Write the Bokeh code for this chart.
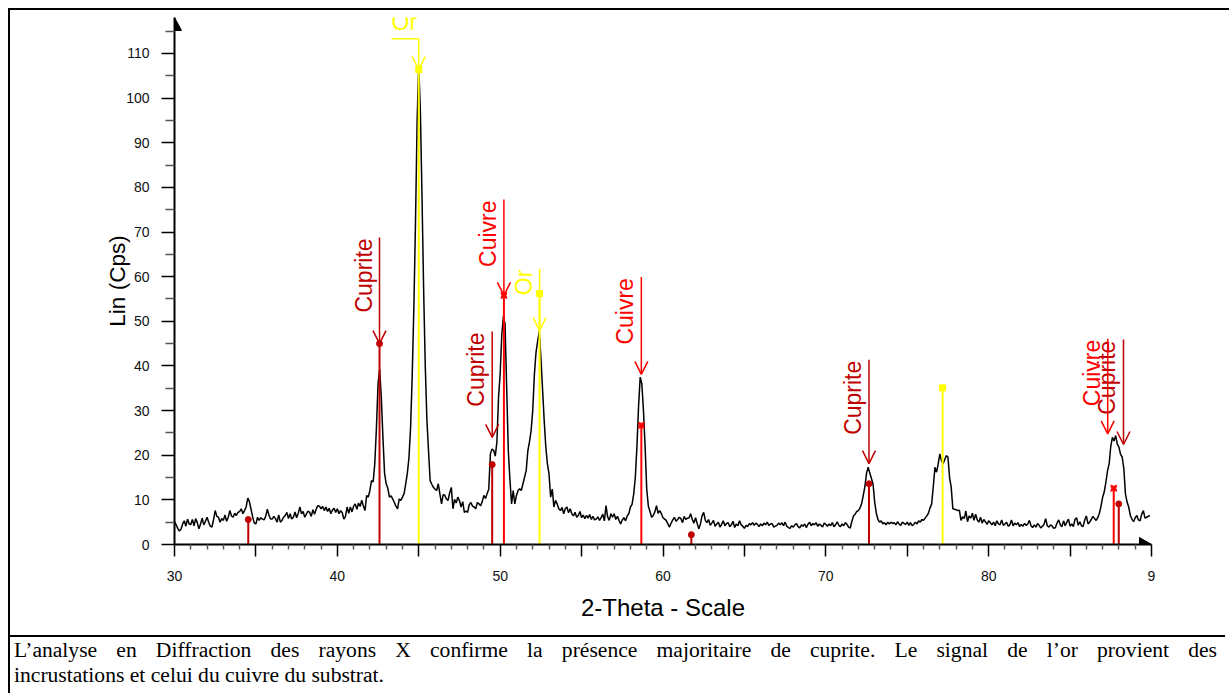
from math import pi
from bokeh.plotting import figure
from bokeh.models import Range1d, LinearAxis, FixedTicker, Arrow, OpenHead, Div
from bokeh.layouts import column
from bokeh.core.properties import value
from bokeh.embed import file_html
from bokeh.resources import INLINE

# ---------------- data ----------------
scan_start = 30.0
scan_step = 0.1
counts = [
    5.2, 4.4, 3.6, 3.0, 3.4, 4.6, 5.3, 4.1, 5.7, 4.6,        # 30
    4.5, 5.6, 4.2, 5.8, 4.9, 3.5, 4.6, 5.9, 4.4, 5.2,        # 31
    6.1, 5.0, 4.1, 3.9, 5.6, 7.6, 6.3, 6.1, 5.0, 5.8,        # 32
    5.4, 6.6, 5.2, 6.1, 7.6, 6.4, 6.1, 7.0, 6.5, 7.2,        # 33
    7.4, 8.0, 6.9, 7.6, 8.4, 10.4, 9.6, 7.9, 6.2, 4.8,       # 34
    4.6, 6.1, 5.4, 6.0, 5.7, 5.5, 6.3, 7.9, 6.6, 5.7,        # 35
    5.7, 6.3, 5.8, 5.0, 6.6, 5.0, 5.4, 6.1, 6.5, 7.2,        # 36
    5.8, 6.9, 5.7, 6.1, 7.3, 6.0, 7.0, 8.4, 6.9, 7.4,        # 37
    6.1, 6.8, 7.5, 7.2, 6.3, 7.8, 6.8, 7.9, 8.7, 8.6,        # 38
    8.0, 8.5, 7.6, 8.4, 7.4, 8.1, 6.9, 7.7, 8.1, 7.2,        # 39
    8.0, 6.9, 7.6, 7.1, 5.7, 6.3, 8.4, 7.0, 8.4, 7.3,        # 40
    8.6, 9.1, 7.9, 9.3, 8.5, 9.9, 8.6, 7.6, 11.0, 10.6,      # 41
    12.1, 14.3, 14.0, 18.1, 26.0, 36.0, 39.3, 33.0, 24.0, 16.0,   # 42
    13.6, 12.6, 10.6, 10.9, 10.2, 9.4, 8.6, 8.0, 10.2, 9.9,  # 43
    10.6, 11.4, 13.6, 16.0, 19.5, 26.3, 38.0, 53.2, 72.0, 95.0,   # 44
    107.3, 97.0, 78.0, 57.0, 40.0, 28.0, 21.0, 14.3, 13.5, 12.8,  # 45
    12.4, 12.1, 13.6, 11.3, 9.1, 11.2, 11.0, 10.2, 9.9, 11.6,     # 46
    12.8, 8.0, 10.1, 9.3, 10.6, 9.8, 8.4, 9.6, 7.2, 7.5,     # 47
    7.2, 8.9, 9.4, 8.6, 8.4, 8.0, 9.4, 9.1, 8.7, 9.6,        # 48
    11.0, 10.3, 11.4, 12.4, 20.3, 21.4, 21.1, 19.8, 23.0, 33.0,   # 49
    38.2, 47.0, 51.1, 49.4, 35.0, 21.0, 14.5, 9.1, 12.1, 9.1,     # 50
    11.0, 12.1, 12.5, 12.1, 13.6, 15.1, 16.6, 21.0, 23.0, 25.5,   # 51
    30.0, 38.0, 43.0, 45.5, 47.7, 42.0, 35.0, 28.0, 22.0, 18.1,   # 52
    15.8, 10.6, 12.4, 8.4, 9.9, 9.1, 8.0, 7.6, 8.3, 6.9,     # 53
    8.0, 8.4, 7.1, 8.0, 6.9, 6.4, 7.2, 6.1, 6.5, 7.4,        # 54
    6.0, 6.6, 5.8, 6.5, 5.9, 6.7, 5.6, 6.3, 5.5, 5.7,        # 55
    6.2, 5.4, 6.0, 6.8, 5.3, 8.7, 6.2, 5.4, 6.9, 6.1,        # 56
    6.9, 5.6, 6.3, 5.4, 4.6, 5.5, 6.0, 5.3, 6.4, 6.9,        # 57
    8.4, 9.0, 11.3, 15.0, 22.0, 31.0, 37.5, 36.0, 30.0, 22.0,     # 58
    12.5, 8.6, 7.4, 6.1, 6.5, 7.3, 8.7, 7.0, 7.6, 6.9,       # 59
    6.0, 5.7, 5.4, 4.6, 3.9, 4.8, 5.5, 6.1, 5.2, 5.6,        # 60
    6.1, 5.8, 4.9, 6.3, 5.6, 5.9, 6.0, 6.9, 5.6, 4.8,        # 61
    6.0, 4.7, 3.5, 4.6, 6.4, 7.2, 5.4, 4.9, 5.6, 4.3,        # 62
    4.8, 5.4, 4.1, 4.6, 5.0, 3.9, 4.5, 5.3, 4.2, 4.7,        # 63
    4.9, 4.0, 4.4, 5.2, 3.8, 4.6, 4.2, 5.3, 4.4, 4.1,        # 64
    3.6, 4.3, 4.0, 4.7, 4.4, 4.9, 4.3, 4.8, 4.5, 4.0,        # 65
    4.6, 4.2, 4.8, 4.4, 5.0, 4.3, 4.6, 4.7, 3.9, 4.1,        # 66
    4.3, 4.8, 4.4, 4.9, 4.2, 5.0, 4.1, 3.8, 3.6, 4.2,        # 67
    3.9, 4.4, 4.7, 4.0, 3.7, 4.4, 4.1, 4.6, 3.8, 4.5,        # 68
    5.0, 4.2, 4.7, 4.4, 4.9, 4.1, 4.6, 4.3, 3.9, 4.8,        # 69
    4.5, 4.1, 4.6, 4.2, 4.9, 4.0, 4.4, 5.1, 4.3, 4.0,        # 70
    4.6, 4.2, 4.9, 4.5, 3.9, 3.7, 5.2, 6.4, 6.8, 7.4,        # 71
    7.6, 8.2, 9.2, 11.0, 13.0, 16.0, 17.3, 16.0, 14.8, 13.5,      # 72
    9.5, 7.0, 5.6, 5.0, 5.3, 4.6, 4.9, 4.4, 5.0, 4.6,        # 73
    5.0, 4.7, 4.9, 4.4, 5.1, 4.6, 4.3, 5.0, 4.7, 4.5,        # 74
    5.0, 4.3, 4.9, 4.2, 4.5, 5.0, 4.6, 5.3, 5.0, 5.6,        # 75
    5.4, 5.9, 6.4, 7.0, 8.2, 9.1, 13.0, 17.3, 16.2, 18.0,    # 76
    20.3, 18.8, 18.1, 19.0, 19.9, 19.6, 15.0, 12.8, 8.0, 7.9,     # 77
    7.8, 7.6, 7.7, 5.4, 6.2, 5.8, 7.5, 5.1, 6.4, 5.9,        # 78
    7.0, 5.4, 6.8, 5.5, 5.0, 6.1, 4.8, 5.6, 5.1, 4.5,        # 79
    5.3, 4.9, 4.4, 5.0, 4.2, 5.3, 4.6, 4.4, 5.5, 4.3,        # 80
    4.6, 5.0, 4.1, 4.4, 5.5, 4.2, 4.8, 4.4, 4.9, 4.0,        # 81
    4.5, 4.1, 4.7, 4.3, 4.6, 5.4, 4.2, 3.8, 4.4, 3.9,        # 82
    4.7, 4.3, 3.7, 4.1, 4.5, 5.8, 4.2, 3.9, 4.4, 4.1,        # 83
    3.6, 3.8, 4.8, 5.5, 4.4, 4.0, 5.3, 4.2, 5.0, 5.7,        # 84
    4.1, 4.6, 4.0, 5.6, 6.0, 4.3, 5.1, 4.2, 4.0, 5.5,        # 85
    6.4, 4.6, 5.0, 5.6, 6.3, 5.8, 5.4, 6.0, 7.0, 8.6,        # 86
    10.6, 11.8, 14.0, 16.5, 18.1, 22.0, 24.0, 23.2, 24.4, 22.5,   # 87
    21.8, 20.2, 19.6, 17.0, 11.3, 9.5, 8.4, 6.5, 5.7, 5.1,   # 88
    6.0, 6.5, 5.5, 5.3, 6.8, 7.6, 5.9, 6.1, 6.3, 6.5,        # 89
]
two_theta = [round(scan_start + scan_step * i, 1) for i in range(len(counts))]

# reference sticks (phase positions / relative intensities)
stick_pos = [34.53, 42.59, 45.00, 49.51, 50.23, 52.42, 58.67, 61.74, 72.65, 77.17, 87.68, 87.99]
stick_int = [5.6, 45.0, 106.4, 17.9, 55.8, 56.2, 26.7, 2.2, 13.6, 35.1, 12.6, 9.1]
stick_phase = ["Cuprite", "Cuprite", "Or", "Cuprite", "Cuivre", "Or",
               "Cuivre", "Cuprite", "Cuprite", "Or", "Cuivre", "Cuprite"]

# labelled arrows
label_pos = [42.59, 49.51, 50.23, 52.42, 58.67, 72.65, 87.31, 88.28]
label_tip = [45.0, 24.0, 55.8, 47.9, 38.1, 18.1, 24.8, 22.4]
label_top = [68.8, 47.7, 77.3, 61.8, 59.9, 41.4, 46.1, 45.9]
label_phase = ["Cuprite", "Cuprite", "Cuivre", "Or", "Cuivre", "Cuprite", "Cuivre", "Cuprite"]

# the "Or" label at 45 deg, moved left with a leader line
or_lead_pos = 45.00
or_lead_tip = 106.4
or_lead_elbow = 113.3
or_lead_text_x = 43.33

phase_color = {"Cuprite": "#C00000", "Cuivre": "#FF0000", "Or": "#FFFF00"}
phase_marker = {"Cuprite": "circle", "Cuivre": "square_pin", "Or": "square"}

x_major = [30, 35, 40, 45, 50, 55, 60, 65, 70, 75, 80, 85, 90]
x_minor = [v for v in range(31, 90) if v % 5]
x_tick_labels = {30: "30", 35: "", 40: "40", 45: "", 50: "50", 55: "", 60: "60",
                 65: "", 70: "70", 75: "", 80: "80", 85: "", 90: "9"}
y_major = [0, 10, 20, 30, 40, 50, 60, 70, 80, 90, 100, 110]
y_minor = [5, 15, 25, 35, 45, 55, 65, 75, 85, 95, 105, 115]

caption_line1 = "L’analyse en Diffraction des rayons X confirme la présence majoritaire de cuprite. Le signal de l’or provient des"
caption_line2 = "incrustations et celui du cuivre du substrat."

# ---------------- figure ----------------
x_lo, x_hi = 30.0, 90.0
y_lo, y_hi = 0.0, 118.06
FIG_W = 1215

p = figure(width=FIG_W, height=620,
           x_range=Range1d(x_lo, x_hi), y_range=Range1d(y_lo, y_hi),
           x_axis_type=None, y_axis_type=None,
           output_backend="svg", toolbar_location=None,
           min_border_left=164, min_border_right=FIG_W - 164 - 977,
           min_border_top=7, min_border_bottom=86)
p.outline_line_color = None
p.background_fill_color = "white"
p.border_fill_color = "white"

AX_FONT = "Liberation Sans"

xaxis = LinearAxis(ticker=FixedTicker(ticks=x_major, minor_ticks=x_minor))
xaxis.major_label_overrides = x_tick_labels
yaxis = LinearAxis(ticker=FixedTicker(ticks=y_major, minor_ticks=y_minor))
for ax in (xaxis, yaxis):
    ax.axis_line_color = "black"
    ax.axis_line_width = 2
    ax.major_tick_in = 0
    ax.minor_tick_in = 0
    ax.major_tick_line_color = "black"
    ax.major_tick_line_width = 1.5
    ax.minor_tick_line_color = "#555555"
    ax.minor_tick_line_width = 1.5
    ax.major_label_text_font = AX_FONT
    ax.major_label_text_font_size = "14px"
    ax.major_label_text_color = "#111111"
    ax.axis_label_text_font = AX_FONT
    ax.axis_label_text_font_style = "normal"
    ax.axis_label_text_color = "black"
xaxis.major_tick_out = 12
xaxis.minor_tick_out = 5
xaxis.major_label_standoff = 14
xaxis.axis_label = "2-Theta - Scale"
xaxis.axis_label_text_font_size = "24px"
xaxis.axis_label_standoff = 10
yaxis.major_tick_out = 13
yaxis.minor_tick_out = 9
yaxis.major_label_standoff = 12
yaxis.axis_label = "Lin (Cps)"
yaxis.axis_label_text_font_size = "22.5px"
yaxis.axis_label_standoff = -7
p.add_layout(xaxis, "below")
p.add_layout(yaxis, "left")

# axis end arrows (half heads)
px_x = (x_hi - x_lo) / 977.0
px_y = (y_hi - y_lo) / 527.0
p.patch([x_lo, x_lo, x_lo + 7 * px_x], [y_hi, y_hi - 13 * px_y, y_hi - 13 * px_y],
        color="black", line_width=1)
p.patch([x_hi - 12 * px_x, x_hi - 12 * px_x, x_hi], [y_lo, y_lo + 7 * px_y, y_lo],
        color="black", line_width=1)

# diffractogram
p.line(two_theta, counts, line_color="black", line_width=1.5)

# reference sticks
s_colors = [phase_color[ph] for ph in stick_phase]
p.segment(x0=stick_pos, y0=[0] * len(stick_pos), x1=stick_pos, y1=stick_int,
          line_color=s_colors, line_width=2)
p.scatter(stick_pos, stick_int, marker=[phase_marker[ph] for ph in stick_phase],
          size=6, fill_color=s_colors, line_color=s_colors)

# labelled arrows
for xp, tip, top, ph in zip(label_pos, label_tip, label_top, label_phase):
    c = phase_color[ph]
    p.add_layout(Arrow(x_start=xp, y_start=top, x_end=xp, y_end=tip,
                       line_color=c, line_width=1.5,
                       end=OpenHead(size=13, line_color=c, line_width=1.5)))
p.text(x=label_pos, y=label_top, text=label_phase, angle=pi / 2,
       text_align="right", text_baseline="bottom", x_offset=-3, y_offset=1,
       text_font=value(AX_FONT), text_font_size="23px",
       text_color=[phase_color[ph] for ph in label_phase])

# Or label with leader at 45 deg
p.line([or_lead_text_x, or_lead_pos], [or_lead_elbow, or_lead_elbow],
       line_color=phase_color["Or"], line_width=1.5)
p.add_layout(Arrow(x_start=or_lead_pos, y_start=or_lead_elbow, x_end=or_lead_pos, y_end=or_lead_tip,
                   line_color=phase_color["Or"], line_width=1.5,
                   end=OpenHead(size=13, line_color=phase_color["Or"], line_width=1.5)))
p.text(x=[or_lead_text_x], y=[or_lead_elbow], text=["Or"], angle=0,
       text_align="left", text_baseline="bottom", y_offset=-4,
       text_font=value(AX_FONT), text_font_size="23px", text_color=phase_color["Or"])

# caption
caption = Div(
    text=('<div style="box-sizing:border-box;width:' + str(FIG_W) + 'px;margin-left:-5px;'
          'border-top:2px solid black;padding:1px 8px 0 4px;'
          'font-family:\'Liberation Serif\',\'Times New Roman\',serif;font-size:21.6px;'
          'line-height:25px;color:black;">'
          '<div style="text-align:justify;text-align-last:justify;">' + caption_line1 + '</div>'
          '<div style="text-align:left;">' + caption_line2 + '</div></div>'),
    width=FIG_W, height=55)

layout = column(p, caption, spacing=0,
                styles={"border-left": "2px solid black", "border-top": "2px solid black",
                        "margin-left": "8px", "margin-top": "8px"})

open("out.html", "w").write(file_html(layout, INLINE))
